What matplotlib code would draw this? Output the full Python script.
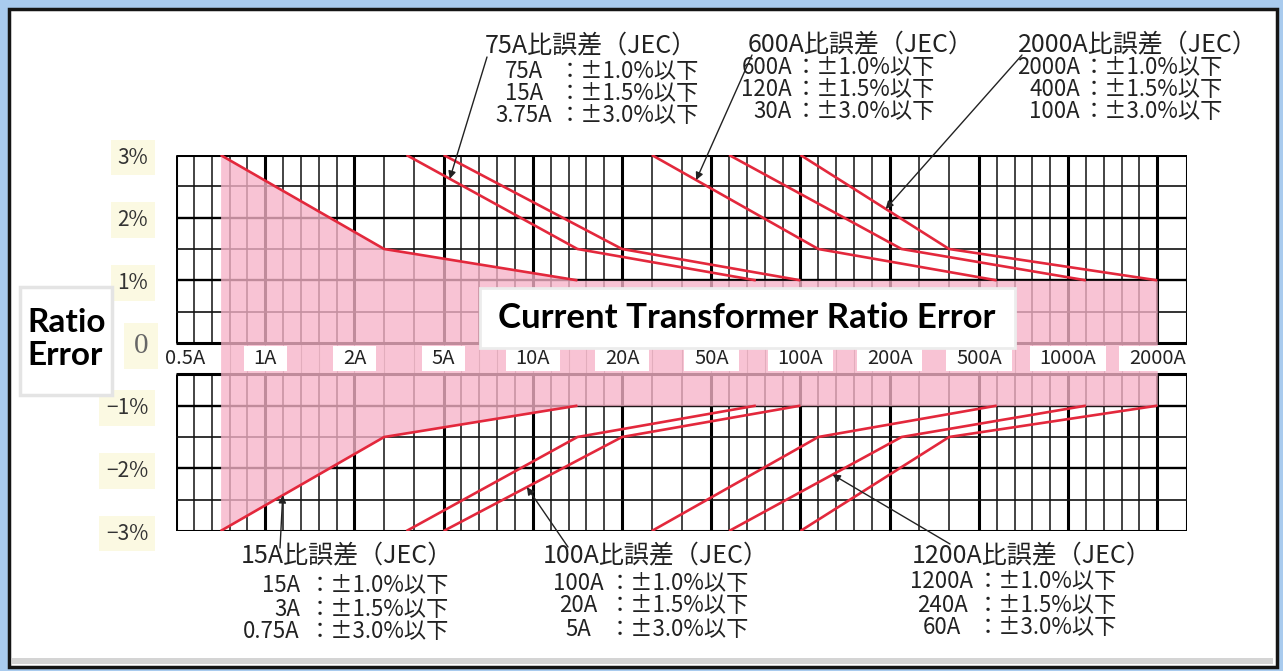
import numpy as np
import matplotlib
matplotlib.use("Agg")
import matplotlib.pyplot as plt
import matplotlib.transforms as mtransforms
from matplotlib.patches import Rectangle

plt.rcParams['font.family'] = ['Noto Sans CJK JP', 'DejaVu Sans']

W, H = 1283, 671

# ---------------- data ----------------
tick_currents = [0.5, 1, 2, 5, 10, 20, 50, 100, 200, 500, 1000, 2000]
tick_labels = ['0.5A', '1A', '2A', '5A', '10A', '20A', '50A', '100A', '200A', '500A', '1000A', '2000A']
y_ticks = [3, 2, 1, 0, -1, -2, -3]
y_tick_labels = ['3%', '2%', '1%', '0', '−1%', '−2%', '−3%']

# each CT: currents at which the limit is ±3.0%, ±1.5%, ±1.0%
error_limit = [3.0, 1.5, 1.0]
ct15_current = [0.75, 3, 15]
ct75_current = [3.75, 15, 75]
ct100_current = [5, 20, 100]
ct600_current = [30, 120, 600]
ct1200_current = [60, 240, 1200]
ct2000_current = [100, 400, 2000]

# pink acceptance area (15A envelope extended at ±1% to 2000A)
pink_current = [0.75, 3, 15, 2000]
pink_limit = [3.0, 1.5, 1.0, 1.0]

# annotation texts
limit_texts = ['：±1.0%以下', '：±1.5%以下', '：±3.0%以下']
ann_75 = ['75A比誤差（JEC）', ['75A', '15A', '3.75A'], limit_texts]
ann_600 = ['600A比誤差（JEC）', ['600A', '120A', '30A'], limit_texts]
ann_2000 = ['2000A比誤差（JEC）', ['2000A', '400A', '100A'], limit_texts]
ann_15 = ['15A比誤差（JEC）', ['15A', '3A', '0.75A'], limit_texts]
ann_100 = ['100A比誤差（JEC）', ['100A', '20A', '5A'], limit_texts]
ann_1200 = ['1200A比誤差（JEC）', ['1200A', '240A', '60A'], limit_texts]

# ---------------- scale: equal spacing between 1-2-5 steps ----------------
scale_anchor = np.array([0.5, 1, 2, 5, 10, 20, 50, 100, 200, 500, 1000, 2000, 5000], float)
scale_index = np.arange(len(scale_anchor), dtype=float)


def fwd(x):
    return np.interp(np.asarray(x, float), scale_anchor, scale_index)


def inv(u):
    return np.interp(np.asarray(u, float), scale_index, scale_anchor)


fig = plt.figure(figsize=(W / 100, H / 100), dpi=100)
fig.patch.set_facecolor('#a9cbee')

# window-like white panel
fig.patches.append(Rectangle((9 / W, 1 - 667 / H), (1277 - 9) / W, (667 - 9) / H,
                             transform=fig.transFigure, fc='white', ec='#151515', lw=2.5, zorder=-5))
fig.patches.append(Rectangle((12 / W, 1 - 664 / H), (1273 - 12) / W, 6 / H,
                             transform=fig.transFigure, fc='#d4d4d4', ec='none', zorder=-4))

ax_l, ax_r, ax_t, ax_b = 176, 1187, 155, 531
ax = fig.add_axes([ax_l / W, 1 - ax_b / H, (ax_r - ax_l) / W, (ax_b - ax_t) / H])
ax.set_xscale('function', functions=(fwd, inv))
ax.set_xlim(0.5, 3000)
ax.set_ylim(-3, 3)
for s in ax.spines.values():
    s.set_visible(False)
ax.set_xticks([])
ax.set_facecolor('none')

# ---------------- grid ----------------
decade_minor = [1.2, 1.4, 1.6, 1.8, 3, 4, 6, 7, 8, 9]
minor_x = [m * d for d in [0.1, 1, 10, 100, 1000] for m in decade_minor]
minor_x = [v for v in minor_x if 0.5 < v < 3000 and v not in tick_currents]
major_x = tick_currents + [3000]

for lo, hi in [(0, 3), (-3, -0.5)]:
    ax.vlines(minor_x, lo, hi, color='#111', lw=1.1, zorder=1)
    ax.vlines(major_x, lo, hi, color='#000', lw=2.2, zorder=1)
strip_x = [v for v in minor_x + major_x if 0.75 < v < 2000]
ax.vlines(strip_x, -0.5, 0, color='#9a9a9a', lw=0.8, zorder=1)

ax.hlines([3, 0, -0.5, -3], 0.5, 3000, color='#000', lw=2.2, zorder=1)
ax.hlines([2, 1, -1, -2], 0.5, 3000, color='#000', lw=1.7, zorder=1)
ax.hlines([2.5, 1.5, 0.5, -1.5, -2.5], 0.5, 3000, color='#111', lw=1.2, zorder=1)

# ---------------- pink area ----------------
ax.fill_between(pink_current, [-v for v in pink_limit], pink_limit,
                color='#f7b3c8', alpha=0.78, lw=0, zorder=2)

# ---------------- red limit lines ----------------
cts = [ct15_current, ct75_current, ct100_current, ct600_current, ct1200_current, ct2000_current]
for cur in cts:
    ax.plot(cur, error_limit, color='#e3283c', lw=1.9, zorder=3, solid_capstyle='butt')
    ax.plot(cur, [-v for v in error_limit], color='#e3283c', lw=1.9, zorder=3, solid_capstyle='butt')

# ---------------- current labels in the strip ----------------
renderer = fig.canvas.get_renderer()
blend = mtransforms.blended_transform_factory(mtransforms.IdentityTransform(), ax.transData)
for i, (c, lab) in enumerate(zip(tick_currents, tick_labels)):
    tr = ax.transData
    if i == 0:
        tr = mtransforms.offset_copy(ax.transData, fig, x=9, units='dots')
    t = ax.text(c, -0.25, lab, ha='center', va='center', fontsize=14.5, color='#222',
                zorder=6, transform=tr)
    bb = t.get_window_extent(renderer)
    ax.add_patch(Rectangle((bb.x0 - 10, -0.45), bb.width + 20, 0.40, transform=blend,
                           fc='white', ec='none', zorder=5))

# ---------------- y tick labels ----------------
ax.set_yticks(y_ticks, y_tick_labels)
ax.tick_params(axis='y', length=0, pad=20, labelsize=15, labelcolor='#333')
for i, lbl in enumerate(ax.get_yticklabels()):
    lbl.set_bbox(dict(fc='#fbf9e2', ec='none', pad=5))
    if y_tick_labels[i] == '0':
        lbl.set_fontfamily('Liberation Serif')
        lbl.set_fontsize(21)
        lbl.set_color('#666')

# ---------------- big labels ----------------
fig.patches.append(Rectangle((20 / W, 1 - 395 / H), 92 / W, 108 / H, transform=fig.transFigure,
                             fc='white', ec='#e4e4e4', lw=2.5, zorder=10))
fig.text(27 / W, 1 - 339 / H, 'Ratio\nError', ha='left', va='center', fontsize=24,
         fontweight='bold', family='Lato', linespacing=1.15, zorder=11)
fig.patches.append(Rectangle((480 / W, 1 - 348 / H), 535 / W, 60 / H, transform=fig.transFigure,
                             fc='white', ec='#ececec', lw=2, zorder=10))
fig.text(747 / W, 1 - 318 / H, 'Current Transformer Ratio Error', ha='center', va='center',
         fontsize=25, fontweight='bold', family='Lato', zorder=11)


# ---------------- annotations ----------------
def point_on(cur, level):
    t = (error_limit[0] - level) / (error_limit[0] - error_limit[1])
    u = fwd(cur[0]) + t * (fwd(cur[1]) - fwd(cur[0]))
    return float(inv(u))


def block(ann, title_x, title_y, cur_x, cur_ha, colon_x, row_y):
    fig.text(title_x / W, 1 - title_y / H, ann[0], ha='left', va='center', fontsize=18, color='#222')
    for c, v, y in zip(ann[1], ann[2], row_y):
        fig.text(cur_x / W, 1 - y / H, c, ha=cur_ha, va='center', fontsize=16, color='#222')
        fig.text(colon_x / W, 1 - y / H, v, ha='left', va='center', fontsize=16, color='#222')


block(ann_75, 485, 46, 524, 'center', 559, [72, 94, 116])
block(ann_600, 748, 45, 792, 'right', 795, [68, 90, 112])
block(ann_2000, 1018, 45, 1080, 'right', 1083, [68, 90, 112])
block(ann_15, 241, 556, 300, 'right', 309, [586, 609, 632])
block(ann_100, 543, 556, 578, 'center', 609, [583, 606, 630])
block(ann_1200, 912, 556, 942, 'center', 977, [582, 605, 627])

arrow_kw = dict(arrowstyle='-|>', color='#222', lw=1.0, mutation_scale=11, shrinkA=0, shrinkB=0)
arrows = [
    (ct75_current, 2.62, 1, (487, 57)),
    (ct600_current, 2.6, 1, (752, 55)),
    (ct2000_current, 2.14, 1, (1022, 55)),
    (ct15_current, 2.43, -1, (280, 548)),
    (ct100_current, 2.3, -1, (568, 547)),
    (ct1200_current, 2.1, -1, (950, 544)),
]
for cur, lev, sign, (px, py) in arrows:
    ax.annotate('', xy=(point_on(cur, lev), sign * lev), xytext=(px, H - py),
                textcoords='figure pixels', arrowprops=arrow_kw, annotation_clip=False, zorder=7)

fig.savefig('out.png', dpi=100, facecolor=fig.get_facecolor())
